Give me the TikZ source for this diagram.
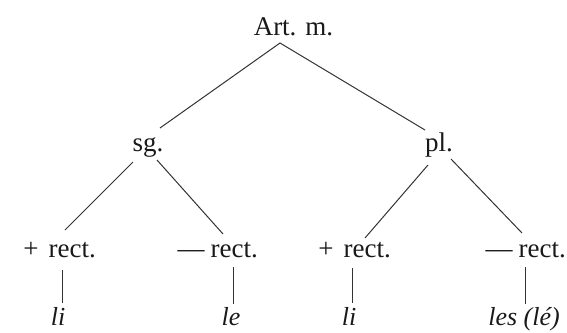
\documentclass[tikz,border=0pt]{standalone}
\usepackage{fontspec}
\setmainfont{Liberation Serif}
\begin{document}
\begin{tikzpicture}[x=1pt,y=-1pt,
  lbl/.style={inner sep=0pt, text=black!90, font=\fontsize{27}{32}\selectfont},
  leaf/.style={lbl, font=\fontsize{26}{30}\selectfont\itshape},
  edge/.style={draw=black!80, line width=1pt}]
\useasboundingbox (0,0) rectangle (567,332);
\node[lbl, anchor=base] (art) at (293.5,35) {Art. m.};
\node[lbl, anchor=base] (sg) at (148,151) {sg.};
\node[lbl, anchor=base] (pl) at (439,151) {pl.};
\node[lbl, anchor=base east] (r1) at (96,257) {+\hspace{10pt}rect.};
\node[lbl, anchor=base east] (r2) at (258,257) {—\hspace{6pt}rect.};
\node[lbl, anchor=base east] (r3) at (391,257) {+\hspace{10pt}rect.};
\node[lbl, anchor=base east] (r4) at (566,257) {—\hspace{6pt}rect.};
\node[leaf, anchor=base] (l1) at (58,325) {li};
\node[leaf, anchor=base] (l2) at (231,325) {le};
\node[leaf, anchor=base] (l3) at (349,325) {li};
\node[leaf, anchor=base] (l4) at (524,325) {les (lé)};
% top
\draw[edge] ([shift={(12,-23)}]sg.base) -- ([shift={(-13.5,8)}]art.base) -- ([shift={(-14,-21)}]pl.base);
% sg branches
\draw[edge] ([shift={(-15,11)}]sg.base) -- ([shift={(-31,-27)}]r1.base east);
\draw[edge] ([shift={(9,9)}]sg.base) -- ([shift={(-35,-23)}]r2.base east);
% pl branches
\draw[edge] ([shift={(-11,14)}]pl.base) -- ([shift={(-26,-19)}]r3.base east);
\draw[edge] ([shift={(12,8)}]pl.base) -- ([shift={(-44,-24)}]r4.base east);
% verticals
\draw[edge] ([shift={(-34,13)}]r1.base east) -- ([shift={(4,-22)}]l1.base);
\draw[edge] ([shift={(-25,10)}]r2.base east) -- ([shift={(2,-21)}]l2.base);
\draw[edge] ([shift={(-39,11)}]r3.base east) -- ([shift={(3,-22)}]l3.base);
\draw[edge] ([shift={(-41,10)}]r4.base east) -- ([shift={(1,-21)}]l4.base);
\end{tikzpicture}
\end{document}
